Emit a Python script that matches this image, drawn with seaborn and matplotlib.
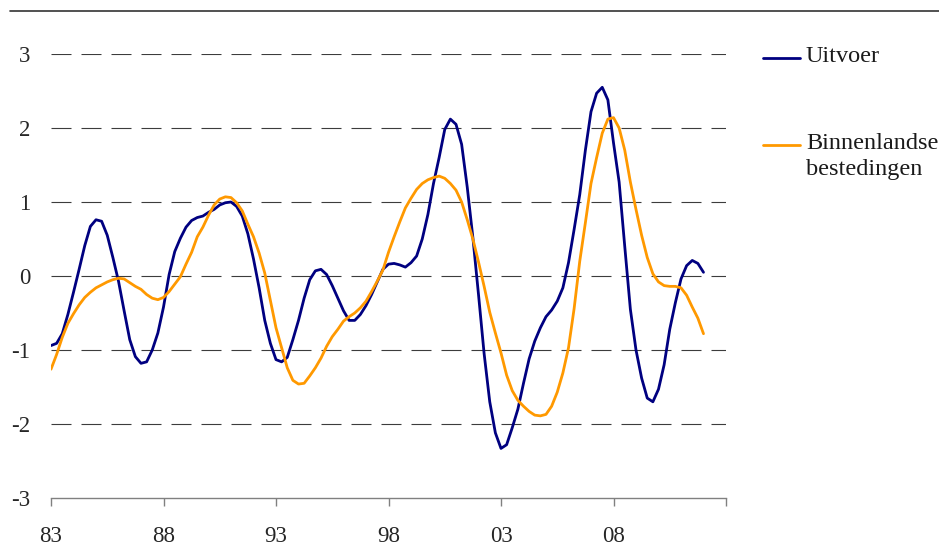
import numpy as np
import pandas as pd
import matplotlib.pyplot as plt
import seaborn as sns
from matplotlib.lines import Line2D

# =============================================
# data (quarterly, 1983Q1 onwards)
uitvoer = [
    -0.94, -0.91, -0.78, -0.52, -0.22, 0.09, 0.41, 0.67, 0.76, 0.74,
    0.55, 0.25, -0.07, -0.47, -0.86, -1.09, -1.18, -1.16, -1.00, -0.77,
    -0.42, 0.02, 0.33, 0.51, 0.66, 0.75, 0.79, 0.81, 0.86, 0.90,
    0.96, 0.99, 1.00, 0.94, 0.81, 0.57, 0.23, -0.16, -0.60, -0.91,
    -1.13, -1.16, -1.10, -0.86, -0.60, -0.30, -0.05, 0.07, 0.09, 0.02,
    -0.13, -0.30, -0.47, -0.60, -0.60, -0.52, -0.40, -0.25, -0.08, 0.09,
    0.16, 0.17, 0.15, 0.12, 0.18, 0.27, 0.50, 0.83, 1.25, 1.60,
    1.98, 2.12, 2.05, 1.78, 1.20, 0.52, -0.25, -1.05, -1.70, -2.12,
    -2.33, -2.28, -2.05, -1.80, -1.45, -1.12, -0.88, -0.70, -0.55, -0.46,
    -0.34, -0.16, 0.18, 0.63, 1.10, 1.70, 2.22, 2.47, 2.55, 2.38,
    1.80, 1.27, 0.40, -0.45, -1.00, -1.38, -1.65, -1.70, -1.53, -1.20,
    -0.72, -0.36, -0.04, 0.14, 0.21, 0.17, 0.05,
]
binnenlandse_bestedingen = [
    -1.26, -1.06, -0.83, -0.64, -0.51, -0.39, -0.29, -0.22, -0.16, -0.12,
    -0.08, -0.05, -0.03, -0.04, -0.09, -0.14, -0.18, -0.25, -0.30, -0.32,
    -0.29, -0.21, -0.11, -0.01, 0.16, 0.32, 0.53, 0.66, 0.82, 0.96,
    1.04, 1.07, 1.06, 0.99, 0.88, 0.70, 0.53, 0.31, 0.04, -0.33,
    -0.70, -0.97, -1.24, -1.41, -1.46, -1.45, -1.35, -1.24, -1.11, -0.95,
    -0.82, -0.72, -0.61, -0.55, -0.50, -0.43, -0.34, -0.21, -0.07, 0.08,
    0.32, 0.53, 0.73, 0.92, 1.05, 1.17, 1.25, 1.30, 1.33, 1.35,
    1.32, 1.25, 1.16, 1.00, 0.76, 0.50, 0.19, -0.14, -0.49, -0.77,
    -1.04, -1.34, -1.55, -1.68, -1.76, -1.83, -1.88, -1.89, -1.87, -1.76,
    -1.57, -1.31, -0.97, -0.44, 0.20, 0.72, 1.25, 1.60, 1.93, 2.12,
    2.14, 2.00, 1.70, 1.27, 0.90, 0.55, 0.25, 0.03, -0.08, -0.13,
    -0.14, -0.14, -0.16, -0.26, -0.42, -0.57, -0.78,
]
series_names = ['Uitvoer', 'Binnenlandse bestedingen']
legend_labels = ['Uitvoer', 'Binnenlandse\nbestedingen']
colors = ['#000080', '#FF9900']
tick_years = [1983, 1988, 1993, 1998, 2003, 2008, 2013]
tick_labels = ['83', '88', '93', '98', '03', '08', '']
y_ticks = [-3, -2, -1, 0, 1, 2, 3]

# =============================================
# long format frame
kwartalen = pd.period_range('1983Q1', periods=len(uitvoer), freq='Q')
jaar = kwartalen.year + (kwartalen.quarter - 1) / 4.0
df = pd.concat([
    pd.DataFrame({'jaar': jaar, 'waarde': uitvoer, 'reeks': series_names[0]}),
    pd.DataFrame({'jaar': jaar, 'waarde': binnenlandse_bestedingen, 'reeks': series_names[1]}),
], ignore_index=True)

# =============================================
# style
sns.set_style('white')
plt.rcParams['font.family'] = ['Liberation Serif', 'DejaVu Serif']
tickFontSize = 16.5
legendFontSize = 17.5

W, H = 939, 549
fig = plt.figure(figsize=(W / 100, H / 100), dpi=100)
ax = fig.add_axes([51 / W, 1 - 498 / H, (726 - 51) / W, (498 - 54) / H])

sns.lineplot(data=df, x='jaar', y='waarde', hue='reeks', hue_order=series_names,
             palette=dict(zip(series_names, colors)), linewidth=2.0,
             legend=False, ax=ax)

ax.set_xlim(tick_years[0], tick_years[-1])
ax.set_ylim(-3, 3)
ax.set_xticks(tick_years)
ax.set_xticklabels(tick_labels)
ax.set_yticks(y_ticks)
ax.set_yticklabels([str(v) for v in y_ticks])
ax.set_xlabel('')
ax.set_ylabel('')

# dashed horizontal grid
ax.grid(axis='y', color='#3c3c3c', linewidth=0.8, linestyle=(0, (18, 9)))
ax.grid(axis='x', visible=False)
ax.get_ygridlines()[0].set_visible(False)

for side in ['top', 'right', 'left']:
    ax.spines[side].set_visible(False)
ax.spines['bottom'].set_color('#808080')
ax.spines['bottom'].set_linewidth(1.0)

ax.tick_params(axis='x', which='both', direction='out', length=6, width=1.0,
               color='#808080', labelsize=tickFontSize, pad=14, bottom=True)
ax.tick_params(axis='y', which='both', length=0, labelsize=tickFontSize, pad=15)

# rule along the top of the figure
fig.add_artist(Line2D([10 / W, 1.0], [1 - 11 / H, 1 - 11 / H], color='#333333', linewidth=1.2))

# legend drawn by hand on the right
legend_y = [58, 145]
for lbl, col, ly in zip(legend_labels, colors, legend_y):
    fig.add_artist(Line2D([763 / W, 800 / W], [1 - ly / H, 1 - ly / H], color=col, linewidth=2.0))
    fig.text(806 / W, 1 - (ly - 12) / H, lbl, fontsize=legendFontSize, va='top', ha='left',
             linespacing=1.3, color='#1a1a1a')

plt.savefig('out.png', dpi=100)
